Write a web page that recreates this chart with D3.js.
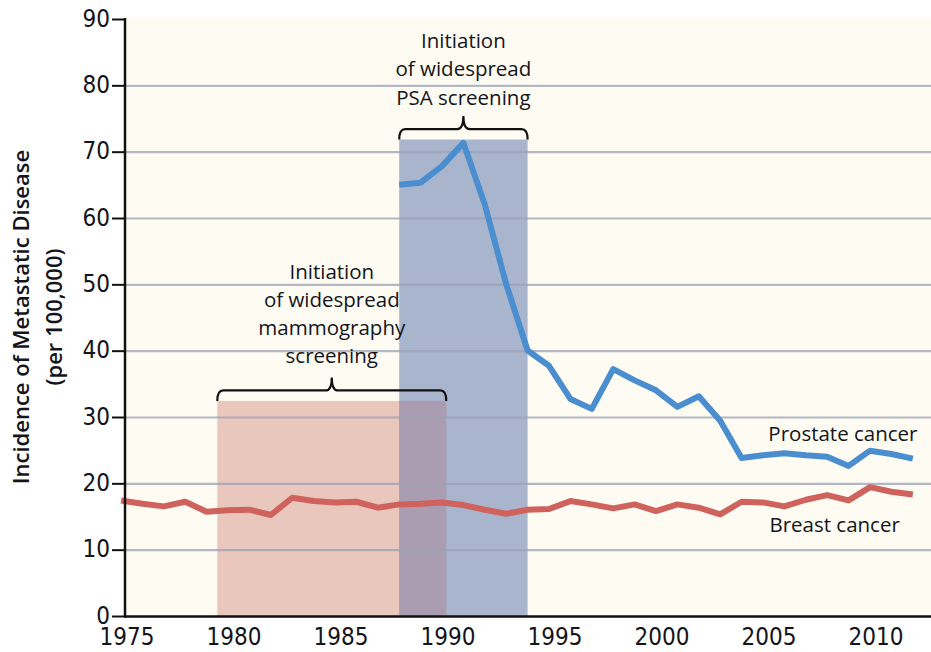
<!DOCTYPE html>
<html><head><meta charset="utf-8">
<script src="https://cdn.jsdelivr.net/npm/d3@7"></script>
<style>
body{margin:0;background:#fff}
text{font-family:"Open Sans",sans-serif;fill:#14141c}
.tick-label{font-family:"DejaVu Sans Condensed","Liberation Sans Narrow","Open Sans",sans-serif;font-size:24px;font-weight:500}
</style>
</head><body><svg id="c" width="931" height="652"></svg>
<script>
// ---------- data ----------
const breastYears = [1975,1976,1977,1978,1979,1980,1981,1982,1983,1984,1985,1986,1987,1988,1989,1990,1991,1992,1993,1994,1995,1996,1997,1998,1999,2000,2001,2002,2003,2004,2005,2006,2007,2008,2009,2010,2011,2012];
const breastValues = [17.5,17.0,16.6,17.3,15.8,16.0,16.1,15.3,17.9,17.4,17.2,17.3,16.4,16.9,17.0,17.2,16.8,16.1,15.5,16.1,16.2,17.4,16.9,16.3,16.9,15.9,16.9,16.4,15.4,17.3,17.2,16.6,17.6,18.3,17.5,19.5,18.8,18.4];
const prostateYears = [1988,1989,1990,1991,1992,1993,1994,1995,1996,1997,1998,1999,2000,2001,2002,2003,2004,2005,2006,2007,2008,2009,2010,2011,2012];
const prostateValues = [65.1,65.4,67.9,71.4,62.1,50.1,40.1,37.8,32.8,31.3,37.3,35.6,34.1,31.6,33.2,29.5,23.9,24.3,24.6,24.3,24.1,22.7,25.0,24.5,23.8];
const xTicks = [1975,1980,1985,1990,1995,2000,2005,2010];
const yTicks = [0,10,20,30,40,50,60,70,80,90];
const gridValues = [10,20,30,40,50,60,70,80];
// screening periods: [start year, end year, top value]
const mammoPeriod = [1979.5, 1990.2, 32.5];
const psaPeriod = [1988, 1994, 71.9];
const mammoText = ["Initiation","of widespread","mammography","screening"];
const psaText = ["Initiation","of widespread","PSA screening"];
const seriesLabels = [
  {text:"Prostate cancer", year:2005.25, value:26.5},
  {text:"Breast cancer", year:2005.3, value:12.75}
];
const yTitle = ["Incidence of Metastatic Disease","(per 100,000)"];

// ---------- chart ----------
const svg = d3.select("#c");
const W = 931;
const x = d3.scaleLinear().domain([1975, 2012]).range([121, 912.8]);
const y = d3.scaleLinear().domain([0, 90]).range([616.5, 19.5]);
const axisX = 125;

// background
svg.append("rect").attr("x", axisX).attr("y", y(90) - 1.5)
  .attr("width", W - axisX).attr("height", y(0) - y(90) + 1.5)
  .attr("fill", "#fefcf2");

// periods
const pink = "#e9c7bc", blue = "#a9b5cd", overlap = "#aa9db1";
function rectFor(p, col){
  svg.append("rect").attr("x", x(p[0])).attr("y", y(p[2]))
    .attr("width", x(p[1]) - x(p[0])).attr("height", y(0) - y(p[2]))
    .attr("fill", col);
}
rectFor(mammoPeriod, pink);
rectFor(psaPeriod, blue);
rectFor([psaPeriod[0], mammoPeriod[1], mammoPeriod[2]], overlap);

// gridlines
svg.append("g").selectAll("line").data(gridValues).join("line")
  .attr("x1", axisX).attr("x2", W)
  .attr("y1", d => y(d)).attr("y2", d => y(d))
  .attr("stroke", "#9aa1b6").attr("stroke-opacity", 0.75).attr("stroke-width", 2.2);

// lines
const line = d3.line().x(d => x(d[0])).y(d => y(d[1]));
svg.append("path").datum(breastYears.map((yr,i)=>[yr, breastValues[i]]))
  .attr("d", line).attr("fill","none").attr("stroke","#d0625d")
  .attr("stroke-width",6).attr("stroke-linejoin","round");
svg.append("path").datum(prostateYears.map((yr,i)=>[yr, prostateValues[i]]))
  .attr("d", line).attr("fill","none").attr("stroke","#4a8ed0")
  .attr("stroke-width",6).attr("stroke-linejoin","round");

// axes
svg.append("line").attr("x1", axisX).attr("x2", axisX).attr("y1", y(90)-1.5).attr("y2", y(0)+1)
  .attr("stroke","#111").attr("stroke-width",2.5);
svg.append("line").attr("x1", axisX-1).attr("x2", W).attr("y1", y(0)).attr("y2", y(0))
  .attr("stroke","#111").attr("stroke-width",2.5);
const yt = svg.append("g").selectAll("g").data(yTicks).join("g");
yt.append("line").attr("x1", 112).attr("x2", axisX).attr("y1", d=>y(d)).attr("y2", d=>y(d))
  .attr("stroke","#111").attr("stroke-width",2);
yt.append("text").attr("class","tick-label").attr("x",110).attr("y",d=>y(d)-1)
  .attr("text-anchor","end").attr("dominant-baseline","central").text(d=>d);
svg.append("g").selectAll("text").data(xTicks).join("text")
  .attr("class","tick-label").attr("x", d=>x(d)+6).attr("y", 645)
  .attr("text-anchor","middle").text(d=>d);

// y title
const tg = svg.append("g").attr("transform","translate(0,317) rotate(-90)");
tg.selectAll("text").data(yTitle).join("text")
  .attr("x",0).attr("y",(d,i)=> 29 + i*33)
  .attr("text-anchor","middle").style("font-size","22px").style("font-weight",600)
  .text(d=>d);

// brackets + annotation text
function brace(x0, x1, yb, h, up){
  const xm = (x0+x1)/2, r = 6;
  return `M${x0},${yb+h} Q${x0},${yb} ${x0+r},${yb} L${xm-r},${yb} Q${xm},${yb} ${xm},${yb-up} Q${xm},${yb} ${xm+r},${yb} L${x1-r},${yb} Q${x1},${yb} ${x1},${yb+h}`;
}
function annotate(p, lines, firstBase){
  const x0 = x(p[0]), x1 = x(p[1]), top = y(p[2]);
  svg.append("path").attr("d", brace(x0, x1, top-10.5, 10.5, 13))
    .attr("fill","none").attr("stroke","#111").attr("stroke-width",2.2);
  svg.append("g").selectAll("text").data(lines).join("text")
    .attr("x",(x0+x1)/2).attr("y",(d,i)=> firstBase + i*28.3)
    .attr("text-anchor","middle").style("font-size","20.5px").style("font-weight",500).text(d=>d);
}
annotate(mammoPeriod, mammoText, 278.5);
annotate(psaPeriod, psaText, 48);

// series labels
svg.append("g").selectAll("text").data(seriesLabels).join("text")
  .attr("x", d=>x(d.year)).attr("y", d=>y(d.value))
  .style("font-size","20.5px").style("font-weight",500).text(d=>d.text);
</script></body></html>
